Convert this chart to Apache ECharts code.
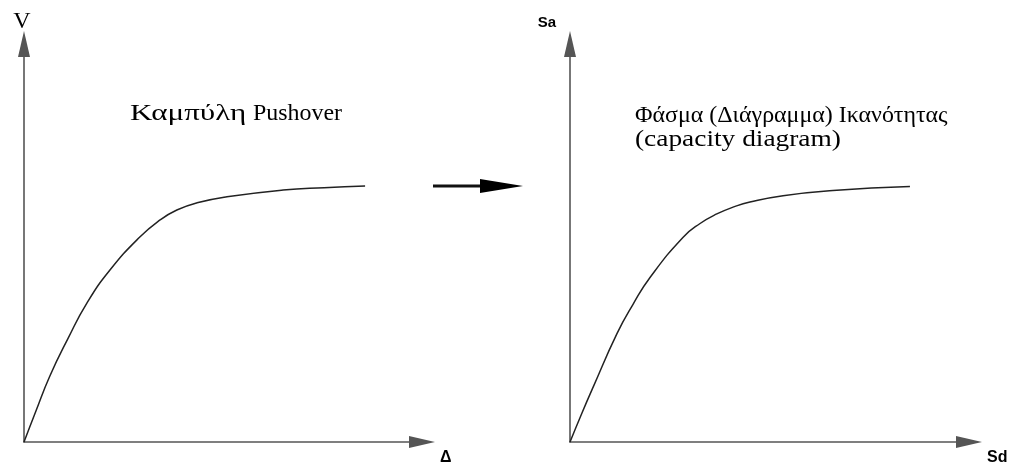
<!DOCTYPE html>
<html>
<head>
<meta charset="utf-8">
<script src="https://cdn.jsdelivr.net/npm/echarts@6/dist/echarts.min.js"></script>
<style>
  html, body { margin: 0; padding: 0; background: #fff; }
  #chart { width: 1011px; height: 470px; }
</style>
</head>
<body>
<div id="chart"></div>
<script>
// pushover curve (left), base shear V vs roof displacement Δ, in % of axis length
var pushoverX = [0, 3.0, 6.5, 11.1, 15.8, 21.6, 29.1, 34.2, 38.4, 43.5, 51.0, 65.1, 75.4, 85.7];
var pushoverY = [0, 7.8, 16.6, 26.1, 34.9, 43.2, 51.5, 55.8, 58.3, 60.1, 61.6, 63.3, 63.9, 64.3];
// capacity diagram (right), Sa vs Sd
var capacityX = [0, 3.0, 5.8, 11.8, 15.8, 20.1, 28.3, 32.6, 36.8, 41.4, 45.1, 53.4, 65.9, 85.2];
var capacityY = [0, 7.3, 13.8, 27.3, 34.6, 41.4, 51.4, 54.9, 57.3, 59.2, 60.3, 61.9, 63.2, 64.2];

function pairs(xs, ys) {
  return xs.map(function (x, i) { return [x, ys[i]]; });
}

var chart = echarts.init(document.getElementById('chart'));

var axisLine = {
  show: true,
  symbol: ['none', 'triangle'],
  symbolSize: [12, 26],
  lineStyle: { color: '#555', width: 1.6 }
};

var hidden = {
  axisTick: { show: false },
  axisLabel: { show: false },
  splitLine: { show: false }
};

function xAxisOf(idx, name) {
  return Object.assign({
    gridIndex: idx,
    type: 'value',
    min: 0,
    max: 100,
    name: name,
    nameLocation: 'end',
    nameGap: 18,
    nameTextStyle: {
      fontFamily: 'Liberation Sans',
      fontWeight: 'bold',
      fontSize: 16,
      color: '#000',
      verticalAlign: 'top',
      lineHeight: 16,
      padding: [8, 0, 0, 0]
    },
    axisLine: axisLine
  }, hidden);
}

function titleText(text, x, y, sx) {
  return {
    type: 'text',
    x: x,
    y: y,
    scaleX: sx,
    style: {
      text: text,
      font: '23px "Liberation Serif"',
      fill: '#000',
      verticalAlign: 'top'
    }
  };
}

var option = {
  animation: false,
  backgroundColor: '#fff',
  grid: [
    { left: 24, top: 44, width: 398, height: 398 },
    { left: 570, top: 44, width: 399, height: 398 }
  ],
  xAxis: [xAxisOf(0, 'Δ'), xAxisOf(1, 'Sd')],
  yAxis: [
    Object.assign({
      gridIndex: 0,
      type: 'value',
      min: 0,
      max: 100,
      name: 'V',
      nameLocation: 'end',
      nameGap: 10,
      nameTextStyle: {
        fontFamily: 'Liberation Serif',
        fontSize: 24,
        color: '#000',
        padding: [0, 4, 0, 0]
      },
      axisLine: axisLine
    }, hidden),
    Object.assign({
      gridIndex: 1,
      type: 'value',
      min: 0,
      max: 100,
      name: 'Sa',
      nameLocation: 'end',
      nameGap: 14,
      nameTextStyle: {
        fontFamily: 'Liberation Sans',
        fontWeight: 'bold',
        fontSize: 15,
        color: '#000',
        padding: [0, 46, 0, 0]
      },
      axisLine: axisLine
    }, hidden)
  ],
  series: [
    {
      type: 'line',
      xAxisIndex: 0,
      yAxisIndex: 0,
      data: pairs(pushoverX, pushoverY),
      smooth: 0.5,
      showSymbol: false,
      lineStyle: { color: '#222', width: 1.5 }
    },
    {
      type: 'line',
      xAxisIndex: 1,
      yAxisIndex: 1,
      data: pairs(capacityX, capacityY),
      smooth: 0.5,
      showSymbol: false,
      lineStyle: { color: '#222', width: 1.5 }
    }
  ],
  graphic: [
    titleText('Καμπύλη', 130, 102, 1.35),
    titleText('Pushover', 253, 102, 1.04),
    titleText('Φάσμα (Διάγραμμα) Ικανότητας', 635, 104.5, 1.04),
    titleText('(capacity diagram)', 635, 128.5, 1.19),
    // arrow between the two panels
    {
      type: 'line',
      shape: { x1: 433, y1: 186, x2: 482, y2: 186 },
      style: { stroke: '#111', lineWidth: 3 }
    },
    {
      type: 'polygon',
      shape: { points: [[480, 179], [523, 186], [480, 193]] },
      style: { fill: '#000' }
    }
  ]
};

chart.setOption(option);
</script>
</body>
</html>
